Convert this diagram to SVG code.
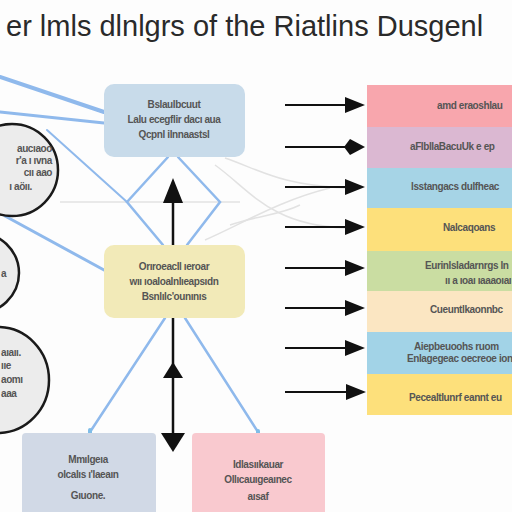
<svg xmlns="http://www.w3.org/2000/svg" width="512" height="512" viewBox="0 0 512 512">
<defs>
<style>
.t{font-family:"Liberation Sans",Arial,sans-serif;fill:#555;font-size:10px;font-weight:bold;letter-spacing:-0.4px}
.c{text-anchor:middle}
.blue{stroke:#8fb9ec;fill:none;stroke-linecap:round}
.gray{stroke:#e2e2e2;fill:none;stroke-width:1.5}
.blk{stroke:#111;stroke-width:2.5;fill:none}
.circ{fill:#ececec;stroke:#1a1a1a;stroke-width:2.5}
</style>
</defs>
<rect width="512" height="512" fill="#fdfdfd"/>
<text x="6" y="36" font-family="Liberation Sans,Arial,sans-serif" font-size="29" fill="#2a2a2a">er lmls dlnlgrs of the Riatlins Dusgenl</text>

<g id="connectors">
<path class="gray" d="M60,202 L240,202"/>
<path class="gray" d="M225,158 C260,170 280,185 345,188"/>
<path class="gray" d="M215,165 C250,190 270,225 345,228"/>
<path class="gray" d="M205,240 C240,225 280,200 330,188"/>
<path class="gray" d="M230,225 C260,215 280,215 300,205"/>
<path class="blue" stroke-width="4" d="M0,77 L104,112"/>
<path class="blue" stroke-width="3" d="M0,112 L104,123" stroke="#9fc8ee"/>
<path class="blue" stroke-width="2" d="M47,130 L127,202" stroke="#a8cdf2"/>
<path class="blue" stroke-width="3" d="M5,216 L104,270"/>
<path class="blue" stroke-width="2.5" d="M168,157 L127,202 L163,245"/>
<path class="blue" stroke-width="2.5" d="M178,157 L220,202 L187,245"/>
<path class="blue" stroke-width="2.5" d="M165,318 L90,432"/>
<path class="blue" stroke-width="2.5" d="M185,318 L258,432"/>
<rect x="88" y="428" width="4" height="10" rx="2" fill="#7fbde8"/>
<rect x="256" y="429" width="4" height="10" rx="2" fill="#7fbde8"/>
<path class="blk" d="M173,245 L173,200"/>
<path d="M173,178 L163,203 L183,203 Z" fill="#111"/>
<path class="blk" d="M173,318 L173,436"/>
<path d="M173,362 L163,378 L183,378 Z" fill="#111"/>
<path d="M173,452 L161,433 L185,433 Z" fill="#111"/>
<g stroke="#111" stroke-width="2" fill="none">
<path d="M285,105 L350,105"/>
<path d="M285,147 L350,147"/>
<path d="M285,187 L350,187"/>
<path d="M285,227 L350,227"/>
<path d="M285,268 L350,268"/>
<path d="M285,308 L350,308"/>
<path d="M285,348 L350,348"/>
<path d="M285,392 L350,392"/>
</g>
<g fill="#111">
<path d="M345,97 L365,105 L345,113 Z"/>
<path d="M344,147 L350,139 L365,147 L350,155 Z"/>
<path d="M345,179 L365,187 L345,195 Z"/>
<path d="M345,219 L365,227 L345,235 Z"/>
<path d="M345,260 L365,268 L345,276 Z"/>
<path d="M345,300 L365,308 L345,316 Z"/>
<path d="M345,340 L365,348 L345,356 Z"/>
<path d="M346,384 L366,392 L346,400 Z"/>
</g>
</g>

<g id="circle1"><ellipse class="circ" cx="12" cy="170" rx="46" ry="46"/>
<text class="t" x="52" y="152" text-anchor="end" font-size="8">aucıaoo</text>
<text class="t" x="52" y="164" text-anchor="end" font-size="8">r'a ı ıvna</text>
<text class="t" x="52" y="176" text-anchor="end" font-size="8">cıı aao</text>
<text class="t" x="32" y="190" text-anchor="end" font-size="8">ı aöıı.</text></g>
<g id="circle2"><ellipse class="circ" cx="-24" cy="273" rx="43" ry="41"/>
<text class="t" x="1" y="277" font-size="8">a</text></g>
<g id="circle3"><ellipse class="circ" cx="-2" cy="380" rx="51" ry="53"/>
<text class="t" x="1" y="356" font-size="8">aıaıı.</text>
<text class="t" x="1" y="369" font-size="8">ııe</text>
<text class="t" x="1" y="383" font-size="8">aomı</text>
<text class="t" x="1" y="397" font-size="8">aaa</text></g>

<g id="topbox"><rect x="104" y="84" width="141" height="73" rx="10" fill="#c8dbea"/>
<text class="t c" x="174" y="108">Bslaulbcuut</text>
<text class="t c" x="174" y="123">Lalu ecegflir dacı aua</text>
<text class="t c" x="174" y="138">Qcpnl ilnnaastsl</text></g>
<g id="midbox"><rect x="104" y="245" width="141" height="73" rx="10" fill="#f2eab8"/>
<text class="t c" x="174" y="270">Orıroeacll ıeroar</text>
<text class="t c" x="174" y="285">wıı ıoaloalnlıeapsıdn</text>
<text class="t c" x="174" y="300">Bsnlılc'ounınıs</text></g>
<g id="botleft"><rect x="22" y="433" width="134" height="90" rx="4" fill="#d1d9e6"/>
<text class="t c" x="88" y="463">Mmılgeıa</text>
<text class="t c" x="88" y="478">olcalıs ı'laeaın</text>
<text class="t c" x="88" y="499">Gıuone.</text></g>
<g id="botright"><rect x="192" y="433" width="133" height="90" rx="4" fill="#f9c9cf"/>
<text class="t c" x="258" y="468">Idlasııkauar</text>
<text class="t c" x="258" y="483">Ollıcauıgeaınec</text>
<text class="t c" x="258" y="500">aısaf</text></g>

<g id="rightcol">
<rect x="367" y="85" width="145" height="42" fill="#f8a6ad"/>
<rect x="367" y="127" width="145" height="41" fill="#dbb8d2"/>
<rect x="367" y="168" width="145" height="40" fill="#a6d4e6"/>
<rect x="367" y="208" width="145" height="43" fill="#fde07b"/>
<rect x="367" y="251" width="145" height="40" fill="#cadda2"/>
<rect x="367" y="291" width="145" height="41" fill="#fbe6c2"/>
<rect x="367" y="332" width="145" height="42" fill="#a2d3e7"/>
<rect x="367" y="374" width="145" height="41" fill="#fde07b"/>
<text class="t" x="437" y="109">amd eraoshlau</text>
<text class="t" x="410" y="150">aFlbllaBacuUk e ep</text>
<text class="t" x="411" y="190">lsstangacs dulfheac</text>
<text class="t" x="443" y="231">Nalcaqoans</text>
<text class="t" x="425" y="269">Eurinlsladarnrgs ln</text>
<text class="t" x="445" y="284" font-size="5" font-weight="normal">ıı a ıoaı ıaaaoıaı</text>
<text class="t" x="430" y="313">Cueuntlkaonnbc</text>
<text class="t" x="414" y="350">Aiepbeuoohs ruom</text>
<text class="t" x="407" y="362" font-size="8">Enlagegeac oecreoe ion</text>
<text class="t" x="409" y="401">Pecealtlunrf eannt eu</text>
</g>
</svg>
